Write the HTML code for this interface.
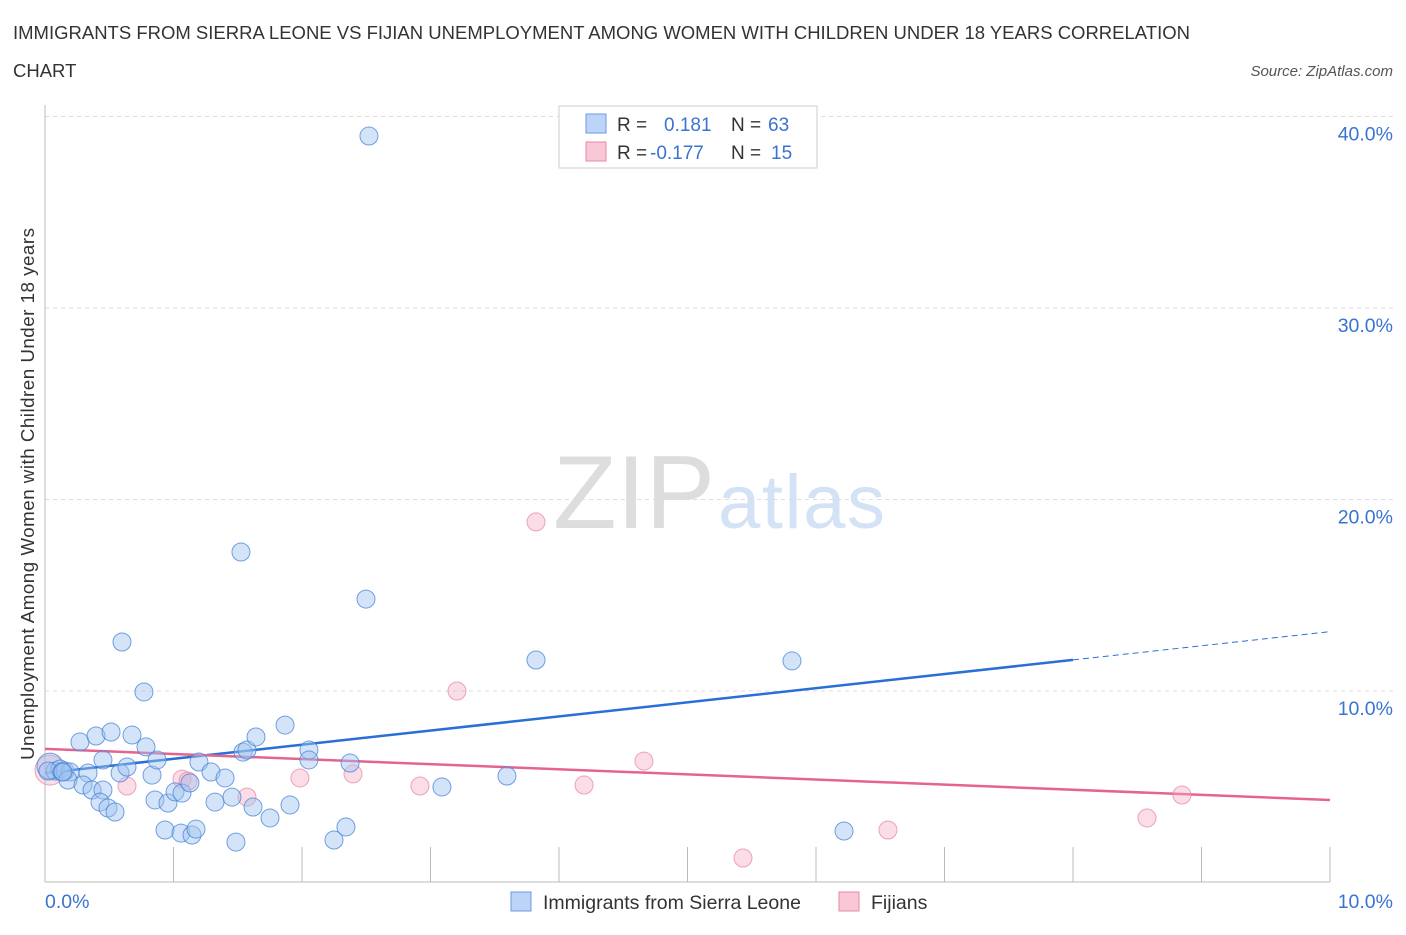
<!DOCTYPE html>
<html><head><meta charset="utf-8">
<style>
body{margin:0;background:#fff;font-family:"Liberation Sans",sans-serif;}
svg text{font-family:"Liberation Sans",sans-serif;}
</style></head>
<body>
<svg id="chart" width="1406" height="930" xmlns="http://www.w3.org/2000/svg">
<text x="13" y="39" font-size="18.5" fill="#333">IMMIGRANTS FROM SIERRA LEONE VS FIJIAN UNEMPLOYMENT AMONG WOMEN WITH CHILDREN UNDER 18 YEARS CORRELATION</text>
<text x="13" y="77" font-size="18.5" fill="#333">CHART</text>
<text x="1393" y="76" font-size="15" fill="#555" text-anchor="end" font-style="italic">Source: ZipAtlas.com</text>
<g>
<text x="553" y="528" font-size="104" font-family="Liberation Serif" fill="#ddd" textLength="162">ZIP</text>
<text x="718" y="528" font-size="76" fill="#d4e2f5" textLength="167">atlas</text>
</g>
<g id="grid"></g>
<g id="axes"></g>
<g id="lines"></g>
<g id="points"></g>
<g>
<rect x="559" y="106" width="258" height="62" fill="#fff" stroke="#ccc"/>
<rect x="586" y="114" width="20" height="19" fill="#bcd4f7" stroke="#6b9ae0"/>
<text x="617" y="131" font-size="19" fill="#333">R =</text>
<text x="664" y="131" font-size="19" fill="#3a73d0">0.181</text>
<text x="731" y="131" font-size="19" fill="#333">N =</text>
<text x="768" y="131" font-size="19" fill="#3a73d0">63</text>
<rect x="586" y="142" width="20" height="19" fill="#f8c8d6" stroke="#e58aa6"/>
<text x="617" y="159" font-size="19" fill="#333">R =</text>
<text x="650" y="159" font-size="19" fill="#3a73d0">-0.177</text>
<text x="731" y="159" font-size="19" fill="#333">N =</text>
<text x="771" y="159" font-size="19" fill="#3a73d0">15</text>
</g>
<g>
<rect x="511" y="892" width="20" height="19" fill="#bcd4f7" stroke="#6b9ae0"/>
<text x="543" y="909" font-size="19.5" fill="#333">Immigrants from Sierra Leone</text>
<rect x="839" y="892" width="20" height="19" fill="#f8c8d6" stroke="#e58aa6"/>
<text x="871" y="909" font-size="19.5" fill="#333">Fijians</text>
</g>
</svg>
<script>
const yTicks=[10,20,30,40];
const yTickLabels=["10.0%","20.0%","30.0%","40.0%"];
const xTickLabels=["0.0%","10.0%"];
const blueX=[2.521,1.525,2.498,3.821,5.813,0.599,0.770,0.039,0.078,0.117,0.156,0.195,0.023,0.132,0.272,0.397,0.514,0.677,0.786,0.451,0.335,0.584,0.638,0.833,0.872,0.179,0.296,0.366,0.451,0.428,0.490,0.545,0.856,0.957,1.012,1.066,1.128,0.934,1.058,1.144,1.175,1.198,1.292,1.401,1.323,1.455,1.619,1.751,1.907,1.486,1.541,1.572,1.642,1.868,2.054,2.054,2.374,2.249,2.342,3.089,3.595,6.218,0.140];
const blueY=[38.98,17.26,14.80,11.62,11.57,12.56,9.95,6.08,5.82,5.93,5.82,5.77,5.82,5.77,7.34,7.65,7.86,7.70,7.08,6.40,5.72,5.72,6.03,5.61,6.40,5.35,5.09,4.83,4.83,4.20,3.89,3.68,4.31,4.15,4.73,4.67,5.20,2.74,2.58,2.48,2.79,6.29,5.77,5.46,4.20,4.46,3.94,3.37,4.05,2.11,6.81,6.92,7.60,8.22,6.92,6.40,6.24,2.22,2.90,4.99,5.56,2.69,5.77];
const pinkX=[0.039,3.821,3.206,4.661,1.066,1.113,0.638,1.572,1.984,2.397,2.918,4.195,5.432,6.560,8.576,8.848];
const pinkY=[5.87,18.83,10.00,6.34,5.40,5.30,5.04,4.46,5.46,5.67,5.04,5.09,1.28,2.74,3.37,4.57];
const blueTrend=[5.72,13.1];
const pinkTrend=[6.98,4.31];
const NS="http://www.w3.org/2000/svg";
const X=v=>45+v*128.5;
const Y=v=>882.5-v*19.15;
function mk(tag,attrs,parent){const e=document.createElementNS(NS,tag);for(const k in attrs)e.setAttribute(k,attrs[k]);parent.appendChild(e);return e;}
const grid=document.getElementById('grid'),axes=document.getElementById('axes'),lines=document.getElementById('lines'),pts=document.getElementById('points');
yTicks.forEach((t,i)=>{
 const l=mk('line',{x1:45,x2:1393,y1:Y(t),y2:Y(t),stroke:'#ddd','stroke-dasharray':'4,4'},grid);
 
 
 const tx=mk('text',{x:1393,y:Y(t)+24,'font-size':19.5,fill:'#3a73d0','text-anchor':'end'},grid);
 tx.textContent=yTickLabels[i];
 
 
});
const ya=mk('line',{x1:45,x2:45,y1:105,y2:882,stroke:'#bbb'},axes);


const xa=mk('line',{x1:45,x2:1330,y1:882,y2:882,stroke:'#bbb'},axes);


for(let i=1;i<=10;i++){const t=mk('line',{x1:X(i),x2:X(i),y1:847,y2:882,stroke:'#bbb'},axes);
 
 }
const xl0=mk('text',{x:45,y:908,'font-size':19.5,fill:'#3a73d0'},axes);xl0.textContent=xTickLabels[0];


const xl1=mk('text',{x:1393,y:908,'font-size':19.5,fill:'#3a73d0','text-anchor':'end'},axes);xl1.textContent=xTickLabels[1];


const yt=mk('text',{x:0,y:0,'font-size':18.8,fill:'#333','text-anchor':'middle',transform:'translate(34,494) rotate(-90)',textLength:532},axes);
yt.textContent='Unemployment Among Women with Children Under 18 years';


pinkX.forEach((x,i)=>{const c=mk('circle',{cx:X(x),cy:Y(pinkY[i]),r:i===0?15:9,fill:'rgba(245,170,195,0.4)',stroke:'rgba(230,130,160,0.7)','stroke-width':1},pts);
 
 });
blueX.forEach((x,i)=>{const c=mk('circle',{cx:X(x),cy:Y(blueY[i]),r:i===7?13:9,fill:'rgba(160,195,240,0.45)',stroke:'rgba(70,130,215,0.75)','stroke-width':1},pts);
 
 });
const bAt=x=>blueTrend[0]+(blueTrend[1]-blueTrend[0])*x/10;
const bl=mk('line',{x1:X(0),y1:Y(bAt(0)),x2:X(8),y2:Y(bAt(8)),stroke:'#2a6fd6','stroke-width':2.5},lines);


const bd=mk('line',{x1:X(8),y1:Y(bAt(8)),x2:X(10),y2:Y(bAt(10)),stroke:'#2a6fd6','stroke-width':1,'stroke-dasharray':'6,4'},lines);


const pl=mk('line',{x1:X(0),y1:Y(pinkTrend[0]),x2:X(10),y2:Y(pinkTrend[1]),stroke:'#e4648f','stroke-width':2.5},lines);


</script>
</body></html>
